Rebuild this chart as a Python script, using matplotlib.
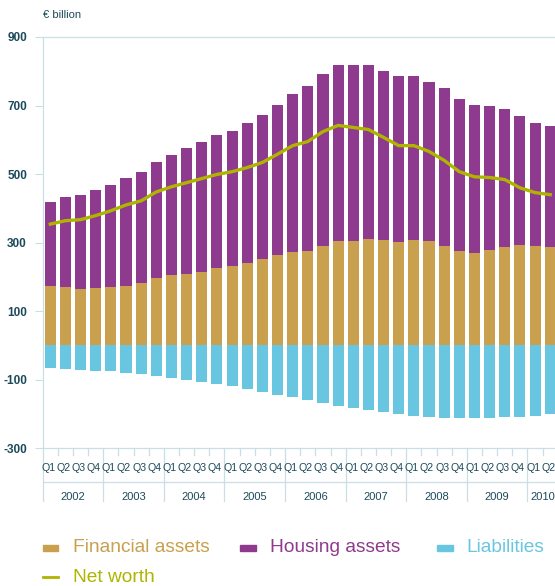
import numpy as np
import matplotlib
matplotlib.use('Agg')
from matplotlib import pyplot as plt
from matplotlib.patches import Rectangle
from matplotlib.lines import Line2D

plt.rcParams['font.family'] = ['Liberation Sans', 'DejaVu Sans']
plt.rcParams['axes.unicode_minus'] = False

# Valores (em mil milhões de euros)
years = ['2002', '2003', '2004', '2005', '2006', '2007', '2008', '2009', '2010']
quarters = ['Q1', 'Q2', 'Q3', 'Q4'] * 8 + ['Q1', 'Q2']
financial = [174, 171, 165, 168, 171, 174, 183, 197, 206, 209, 215, 227, 232, 241, 253, 265,
             273, 276, 291, 305, 305, 311, 308, 303, 308, 305, 291, 276, 270, 279, 288, 294,
             291, 288]
housing = [246, 263, 275, 287, 298, 316, 324, 339, 351, 366, 380, 388, 395, 409, 420, 438,
           462, 480, 500, 512, 512, 506, 494, 482, 477, 465, 459, 442, 433, 421, 403, 374,
           359, 353]
liabilities = [-66, -69, -72, -75, -75, -80, -83, -89, -95, -101, -107, -113, -118, -127, -136, -145,
               -151, -159, -168, -177, -183, -189, -194, -200, -206, -209, -212, -212, -212, -212, -209, -209,
               -206, -200]
net_worth = [354, 364, 367, 379, 393, 410, 422, 448, 463, 475, 487, 499, 507, 519, 534, 558,
             583, 595, 624, 642, 636, 630, 607, 583, 583, 566, 540, 507, 492, 490, 484, 460,
             446, 440]

c_fin = '#C8A04E'
c_house = '#8E3A8E'
c_liab = '#69C6E0'
c_net = '#AEB400'
c_text = '#1C4A5A'
c_line = '#C9DEE5'

fig = plt.figure(figsize=(5.55, 5.86), dpi=100)
ax = fig.add_axes([42.7 / 555, 0.235, (557.8 - 42.7) / 555, 0.7019])

x = np.arange(len(quarters))
w = 0.73
ax.bar(x, financial, w, color=c_fin, zorder=2)
ax.bar(x, housing, w, bottom=financial, color=c_house, zorder=2)
ax.bar(x, liabilities, w, color=c_liab, zorder=2)
ax.plot(x, net_worth, color=c_net, lw=2.4, zorder=3, solid_joinstyle='round')

ax.set_xlim(-0.5, len(quarters) - 0.5)
ax.set_ylim(-300, 900)
ax.set_yticks([900, 700, 500, 300, 100, -100, -300])
ax.tick_params(axis='y', length=5.8, width=0.8, color=c_line, pad=5.5,
               labelsize=8.5, labelcolor=c_text)
for lb in ax.get_yticklabels():
    lb.set_fontweight('bold')
ax.set_xticks([])
ax.spines['right'].set_visible(False)
for s in ['top', 'bottom', 'left']:
    ax.spines[s].set_color(c_line)
    ax.spines[s].set_linewidth(0.9)

# Eixo das categorias (trimestres / anos) abaixo do gráfico
y_tick = -319.5
y_q = -357.5
y_sep = -399
y_year = -441
y_bot = -454
kw = dict(color=c_line, lw=0.9, clip_on=False, zorder=1)
ax.plot([-0.5, -0.5], [-300, y_bot], **kw)
ax.plot([-0.5, len(quarters) - 0.5], [y_sep, y_sep], **kw)
for i in range(1, len(quarters)):
    b = i - 0.5
    if i % 4 == 0:
        ax.plot([b, b], [-300, y_bot], **kw)
    else:
        ax.plot([b, b], [-300, y_tick], **kw)
for i, q in enumerate(quarters):
    ax.text(i - 0.13, y_q, q, ha='center', va='center', fontsize=7.7, color=c_text)
for j, yr in enumerate(years):
    start = j * 4
    end = min(start + 4, len(quarters))
    ax.text((start + end - 1) / 2, y_year, yr, ha='center', va='center',
            fontsize=8, color=c_text)

fig.text(42.7 / 555, 1 - 15 / 586, '€ billion', ha='left', va='center',
         fontsize=8, color=c_text)

# Legenda manual
def leg_box(x0, y0, color, label, tx):
    fig.patches.append(Rectangle((x0 / 555, 1 - (y0 + 3.4) / 586), 15.6 / 555, 6.7 / 586,
                                 transform=fig.transFigure, color=color))
    fig.text(tx / 555, 1 - y0 / 586, label, ha='left', va='center',
             fontsize=13.8, color=color)

leg_box(42.7, 548, c_fin, 'Financial assets', 73.3)
leg_box(240, 548, c_house, 'Housing assets', 270)
leg_box(437.3, 548, c_liab, 'Liabilities', 466.7)
fig.lines.append(Line2D([42.7 / 555, 58.3 / 555], [1 - 577 / 586, 1 - 577 / 586],
                        transform=fig.transFigure, color=c_net, lw=2))
fig.text(73.3 / 555, 1 - 577 / 586, 'Net worth', ha='left', va='center',
         fontsize=13.8, color=c_net)

fig.savefig('out.png', dpi=100)
